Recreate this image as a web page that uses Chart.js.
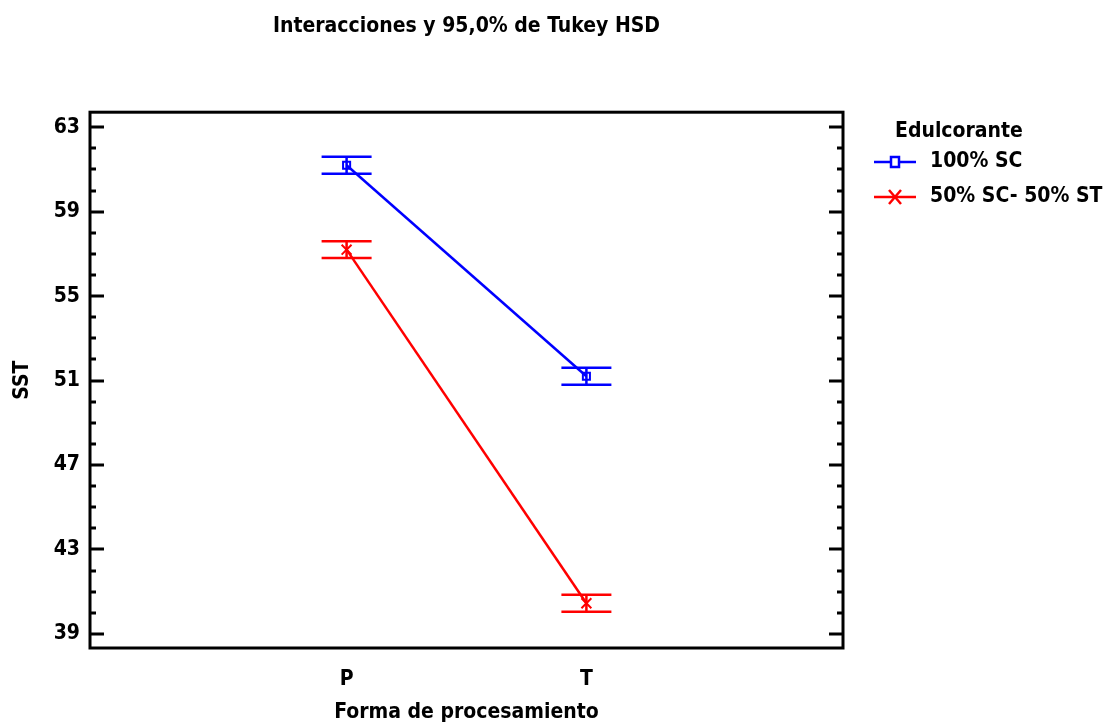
<!DOCTYPE html>
<html>
<head>
<meta charset="utf-8">
<script src="https://cdn.jsdelivr.net/npm/chart.js@4"></script>
<style>
  html, body { margin: 0; padding: 0; background: #fff; }
  #wrap { width: 1112px; height: 727px; }
</style>
</head>
<body>
<div id="wrap"><canvas id="tukeyChart" width="1112" height="727"></canvas></div>
<script>
// Interacciones y 95,0% de Tukey HSD
const categories = ['P', 'T'];
const seriesNames = ['100% SC', '50% SC- 50% ST'];
const meanSC = [61.2, 51.2];
const lowSC = [60.8, 50.8];
const highSC = [61.6, 51.6];
const meanMix = [57.2, 40.45];
const lowMix = [56.8, 40.05];
const highMix = [57.6, 40.85];
const yTicks = [39, 43, 47, 51, 55, 59, 63];

const FONT = "'Liberation Sans Narrow', 'Arial Narrow', 'DejaVu Sans Condensed', sans-serif";
const BLUE = '#0000ff';
const RED = '#ff0000';

const toPoints = vals => vals.map((v, i) => ({ x: i + 1, y: v }));

// marco, marcas de eje hacia dentro, barras de error y leyenda
const framePlugin = {
  id: 'frame',
  afterDatasetsDraw(chart) {
    const { ctx, chartArea: a, scales } = chart;
    const y = scales.y, x = scales.x;
    ctx.save();

    // barras de error (intervalos HSD)
    const bars = [[lowSC, highSC, BLUE], [lowMix, highMix, RED]];
    bars.forEach(([lo, hi, col]) => {
      ctx.strokeStyle = col;
      ctx.lineWidth = 2.5;
      lo.forEach((v, i) => {
        const px = x.getPixelForValue(i + 1);
        const y1 = y.getPixelForValue(v), y2 = y.getPixelForValue(hi[i]);
        ctx.beginPath();
        ctx.moveTo(px - 25, y1); ctx.lineTo(px + 25, y1);
        ctx.moveTo(px - 25, y2); ctx.lineTo(px + 25, y2);
        ctx.moveTo(px, y1); ctx.lineTo(px, y2);
        ctx.stroke();
      });
    });

    // marcas del eje Y (izquierda y derecha)
    ctx.strokeStyle = '#000';
    ctx.lineWidth = 3;
    for (let v = 39; v <= 63; v++) {
      const py = Math.round(y.getPixelForValue(v));
      const len = yTicks.includes(v) ? 14 : 6;
      ctx.beginPath();
      ctx.moveTo(a.left, py); ctx.lineTo(a.left + len, py);
      ctx.moveTo(a.right, py); ctx.lineTo(a.right - len, py);
      ctx.stroke();
    }

    // marco
    ctx.lineWidth = 3;
    ctx.strokeRect(a.left, a.top, a.right - a.left, a.bottom - a.top);

    // leyenda
    ctx.fillStyle = '#000';
    ctx.textBaseline = 'middle';
    ctx.textAlign = 'left';
    ctx.font = 'bold 21px ' + FONT;
    ctx.fillText('Edulcorante', 895, 132);
    const rows = [[BLUE, 162, 'sq'], [RED, 197, 'x']];
    rows.forEach(([col, ry, mk], i) => {
      ctx.strokeStyle = col;
      ctx.lineWidth = 2.5;
      ctx.beginPath();
      ctx.moveTo(874, ry); ctx.lineTo(916, ry);
      ctx.stroke();
      if (mk === 'sq') {
        ctx.fillStyle = '#fff';
        ctx.fillRect(891, ry - 5, 8, 10);
        ctx.strokeRect(891, ry - 5, 8, 10);
      } else {
        ctx.beginPath();
        ctx.moveTo(889, ry - 7); ctx.lineTo(901, ry + 7);
        ctx.moveTo(901, ry - 7); ctx.lineTo(889, ry + 7);
        ctx.stroke();
      }
      ctx.fillStyle = '#000';
      ctx.fillText(seriesNames[i], 930, ry);
    });
    ctx.restore();
  }
};

new Chart(document.getElementById('tukeyChart'), {
  type: 'line',
  data: {
    datasets: [
      {
        label: seriesNames[0],
        data: toPoints(meanSC),
        borderColor: BLUE,
        borderWidth: 2.5,
        pointStyle: 'rect',
        pointRadius: 5,
        pointBorderWidth: 2,
        pointBackgroundColor: 'rgba(255,255,255,0)',
        pointBorderColor: BLUE,
        tension: 0
      },
      {
        label: seriesNames[1],
        data: toPoints(meanMix),
        borderColor: RED,
        borderWidth: 2.5,
        pointStyle: 'crossRot',
        pointRadius: 7,
        pointBorderWidth: 2,
        pointBorderColor: RED,
        tension: 0
      }
    ]
  },
  plugins: [framePlugin],
  options: {
    responsive: false,
    animation: false,
    layout: { padding: { left: 0, right: 269, top: 0, bottom: 0 } },
    plugins: {
      legend: { display: false },
      tooltip: { enabled: false },
      title: {
        display: true,
        fullSize: false,
        text: 'Interacciones y 95,0% de Tukey HSD',
        color: '#000',
        font: { family: FONT, size: 21, weight: 'bold', lineHeight: 1.2 },
        padding: { top: 14, bottom: 73 }
      }
    },
    scales: {
      x: {
        type: 'linear',
        min: -0.07,
        max: 3.07,
        grid: { display: false, drawTicks: false },
        border: { display: false },
        afterBuildTicks: s => { s.ticks = categories.map((c, i) => ({ value: i + 1 })); },
        afterFit: s => { s.height = 79; },
        ticks: {
          color: '#000',
          padding: 19,
          font: { family: FONT, size: 21, weight: 'bold' },
          callback: v => categories[v - 1] || ''
        },
        title: {
          display: true,
          text: 'Forma de procesamiento',
          color: '#000',
          font: { family: FONT, size: 21, weight: 'bold', lineHeight: 1.2 },
          padding: { top: 2, bottom: 2 }
        }
      },
      y: {
        min: 38.33,
        max: 63.71,
        grid: { display: false, drawTicks: false },
        border: { display: false },
        afterBuildTicks: s => { s.ticks = yTicks.map(v => ({ value: v })); },
        afterFit: s => { s.width = 90; },
        ticks: {
          color: '#000',
          padding: 10,
          font: { family: FONT, size: 21, weight: 'bold' }
        },
        title: {
          display: true,
          text: 'SST',
          color: '#000',
          font: { family: FONT, size: 21, weight: 'bold', lineHeight: 1.2 },
          padding: { top: 10, bottom: 0 }
        }
      }
    }
  }
});
</script>
</body>
</html>
